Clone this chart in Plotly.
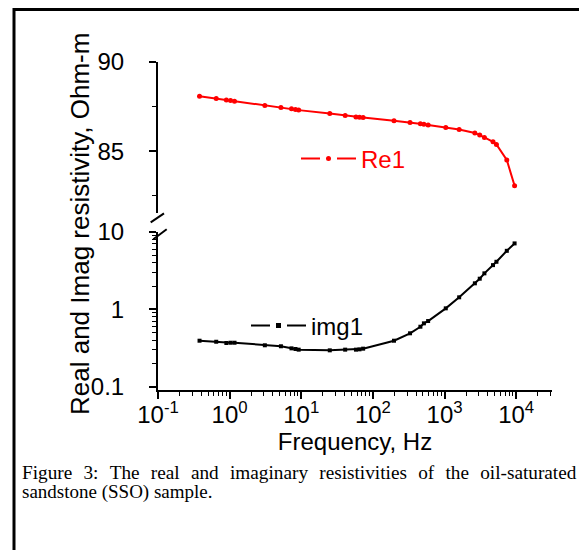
import plotly.graph_objects as go

# frequencies, Hz (same sweep for both curves)
freq = [0.38, 0.65, 0.9, 1.03, 1.17, 3.1, 5.2, 7.3, 8.3, 9.2, 25, 41, 58, 65, 73,
        197, 330, 460, 515, 590, 1040, 1600, 2650, 3100, 3600, 4750, 5300, 7400, 9500]

# real resistivity, Ohm-m
re1 = [88.08, 87.95, 87.87, 87.84, 87.80, 87.56, 87.45, 87.37, 87.33, 87.30, 87.11,
       87.00, 86.92, 86.90, 86.89, 86.70, 86.61, 86.53, 86.51, 86.46, 86.33, 86.21,
       86.02, 85.90, 85.77, 85.52, 85.37, 84.50, 83.06]

# imaginary resistivity, Ohm-m
img1 = [0.393, 0.381, 0.367, 0.370, 0.370, 0.343, 0.333, 0.313, 0.307, 0.301, 0.295,
        0.301, 0.301, 0.304, 0.310, 0.393, 0.49, 0.596, 0.659, 0.706, 1.03, 1.43,
        2.17, 2.49, 2.92, 3.73, 4.12, 5.71, 7.12]

x_tickvals = [0.1, 1, 10, 100, 1000, 10000]
x_ticktext = ['10<sup>-1</sup>', '10<sup>0</sup>', '10<sup>1</sup>',
              '10<sup>2</sup>', '10<sup>3</sup>', '10<sup>4</sup>']
re_tickvals = [85, 90]
im_tickvals = [0.1, 1, 10]
im_ticktext = ['0.1', '1', '10']

# la page html ajoute une marge de 8 px autour de la figure
OFF = 8
W, H = 579, 542
L, R, T, B = 150, 35, 54, 160
PW, PH = W - L - R, H - T - B


def px(x):
    # position en pixels de la page -> coordonnée papier x
    return (x - OFF - L) / PW


def py(y):
    # position en pixels de la page -> coordonnée papier y
    return (H - B - (y - OFF)) / PH


SANS = 'Liberation Sans, Arial, sans-serif'
SERIF = 'Liberation Serif, Times New Roman, serif'

fig = go.Figure()

# données
fig.add_trace(go.Scatter(
    x=freq, y=re1, xaxis='x', yaxis='y', mode='lines+markers',
    line=dict(color='#ff0000', width=2), marker=dict(symbol='circle', size=5, color='#ff0000'),
    showlegend=False, hoverinfo='skip'
))
fig.add_trace(go.Scatter(
    x=freq, y=img1, xaxis='x', yaxis='y2', mode='lines+markers',
    line=dict(color='black', width=2), marker=dict(symbol='square', size=4, color='black'),
    showlegend=False, hoverinfo='skip'
))

# entrées de légende (trait - point - trait)
fig.add_trace(go.Scatter(
    x=[None], y=[None], xaxis='x', yaxis='y', mode='lines+markers', name='Re1',
    line=dict(color='#ff0000', width=2, dash='19px,17px'),
    marker=dict(symbol='circle', size=5, color='#ff0000'), legend='legend'
))
fig.add_trace(go.Scatter(
    x=[None], y=[None], xaxis='x', yaxis='y2', mode='lines+markers', name='img1',
    line=dict(color='black', width=2, dash='19px,17px'),
    marker=dict(symbol='square', size=5, color='black'), legend='legend2'
))

axis_common = dict(
    showline=True, linecolor='black', linewidth=2, showgrid=False, zeroline=False,
    ticks='outside', ticklen=7, tickwidth=1.5, tickcolor='black', automargin=False,
    tickfont=dict(family=SANS, size=24, color='black'),
)

fig.update_layout(
    width=W, height=H,
    margin=dict(l=L, r=R, t=T, b=B, autoexpand=False),
    paper_bgcolor='white', plot_bgcolor='white',
    xaxis=dict(
        type='log', range=[-1, 4.5], anchor='y2',
        tickmode='array', tickvals=x_tickvals, ticktext=x_ticktext, ticklabelstandoff=-5,
        minor=dict(ticks='outside', ticklen=4, tickwidth=1.2, tickcolor='black', dtick='D1'),
        title=dict(text='Frequency, Hz', font=dict(family=SANS, size=24, color='black'), standoff=2),
        **axis_common
    ),
    yaxis=dict(
        domain=[py(213.3), 1], range=[81.51, 90], anchor='x',
        tickmode='array', tickvals=re_tickvals, ticklabelstandoff=20,
        minor=dict(ticks='outside', ticklen=4, tickwidth=1.2, tickcolor='black', dtick=2.5, tick0=0),
        **axis_common
    ),
    yaxis2=dict(
        domain=[0, py(232)], type='log', range=[-1.043, 1.0], anchor='x',
        tickmode='array', tickvals=im_tickvals, ticktext=im_ticktext, ticklabelstandoff=20,
        minor=dict(ticks='outside', ticklen=4, tickwidth=1.2, tickcolor='black', dtick='D1'),
        **axis_common
    ),
    legend=dict(
        x=px(296), y=py(159), xanchor='left', yanchor='middle', bgcolor='rgba(0,0,0,0)',
        font=dict(family=SANS, size=24, color='#ff0000'), itemwidth=55
    ),
    legend2=dict(
        x=px(246), y=py(326), xanchor='left', yanchor='middle', bgcolor='rgba(0,0,0,0)',
        font=dict(family=SANS, size=24, color='black'), itemwidth=55
    ),
)

# cadre et coupure de l'axe
fig.add_shape(type='rect', xref='paper', yref='paper',
              x0=px(14), x1=px(584.5), y0=py(OFF + 1.5), y1=py(570),
              line=dict(color='black', width=3), layer='above')
fig.add_shape(type='line', xref='paper', yref='paper',
              x0=px(150.7), y0=py(222.3), x1=px(164), y1=py(213.3),
              line=dict(color='black', width=2))
fig.add_shape(type='line', xref='paper', yref='paper',
              x0=px(153.3), y0=py(239.3), x1=px(166.7), y1=py(229.3),
              line=dict(color='black', width=2))

# titre de l'axe y
fig.add_annotation(text='Real and Imag resistivity, Ohm-m', xref='paper', yref='paper',
                   x=px(80), y=py(224), textangle=-90, showarrow=False,
                   xanchor='center', yanchor='middle',
                   font=dict(family=SANS, size=26, color='black'))

# légende de la figure
gap = '\u2002\u200a'
line1 = gap.join('Figure 3: The real and imaginary resistivities of the oil-saturated'.split(' '))
fig.add_annotation(text=line1, xref='paper', yref='paper', x=px(20), y=py(472),
                   xanchor='left', yanchor='middle', showarrow=False,
                   font=dict(family=SERIF, size=19.25, color='black'))
fig.add_annotation(text='sandstone (SSO) sample.', xref='paper', yref='paper', x=px(20), y=py(491.5),
                   xanchor='left', yanchor='middle', showarrow=False,
                   font=dict(family=SERIF, size=19, color='black'))

fig.write_html('out.html')
